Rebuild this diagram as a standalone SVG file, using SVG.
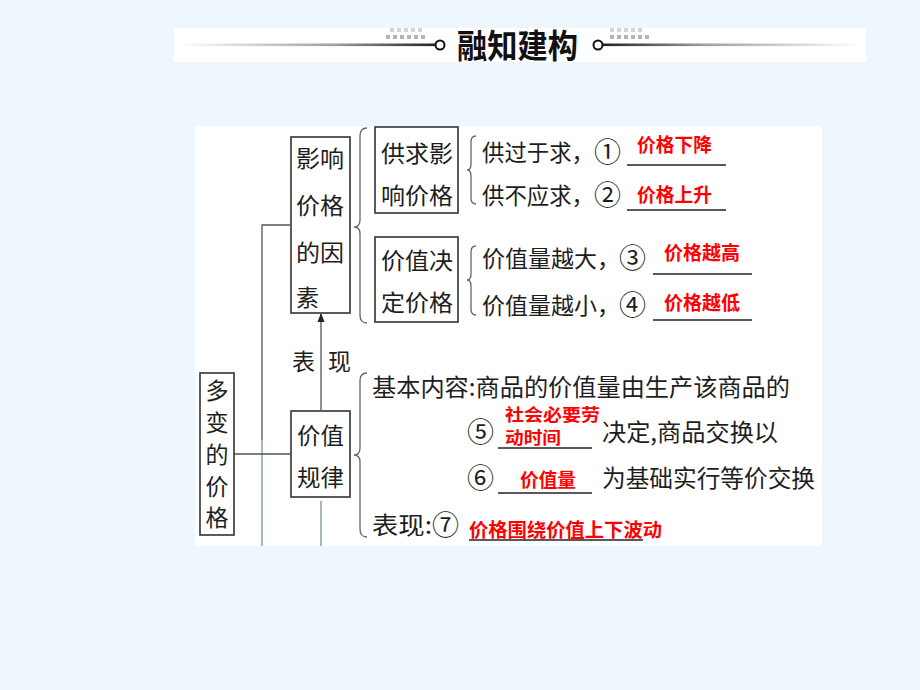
<svg xmlns="http://www.w3.org/2000/svg" width="920" height="690" viewBox="0 0 920 690">
<defs>
<style>
.t{font-family:"Noto Sans CJK SC","Liberation Serif",serif;font-size:23px;fill:#1e1e1e;}
.b{font-size:24px;}
.c{font-size:27px;}
.r{font-family:"Noto Sans CJK SC","Liberation Sans",sans-serif;font-size:19px;font-weight:bold;fill:#ff0000;}
.rs{font-size:16.5px;}
.box{fill:#ffffff;stroke:#333333;stroke-width:1.6;}
.ul{stroke:#222222;stroke-width:1.6;}
.br{fill:none;stroke:#666666;stroke-width:1.3;}
.ln{stroke:#555555;stroke-width:1.3;fill:none;}
.ln2{stroke:#6f9898;stroke-width:1.3;fill:none;}
.dot{fill:#b4b4b4;}
.dot2{fill:#d4d4d4;}
</style>
<linearGradient id="gl" x1="0" y1="0" x2="1" y2="0">
<stop offset="0" stop-color="#ffffff"/>
<stop offset="0.6" stop-color="#a0a0a0"/>
<stop offset="1" stop-color="#222222"/>
</linearGradient>
<linearGradient id="gr" x1="0" y1="0" x2="1" y2="0">
<stop offset="0" stop-color="#222222"/>
<stop offset="0.4" stop-color="#a0a0a0"/>
<stop offset="1" stop-color="#ffffff"/>
</linearGradient>
<marker id="ah" viewBox="0 0 10 10" refX="9" refY="5" markerWidth="9" markerHeight="9" markerUnits="userSpaceOnUse" orient="auto">
<path d="M0,1 L10,5 L0,9 Z" fill="#222222"/>
</marker>
</defs>
<rect width="920" height="690" fill="#eef6fe"/>

<g id="banner">
<rect x="174" y="28" width="692" height="34" fill="#ffffff"/>
<rect x="180" y="43.5" width="256" height="2.6" fill="url(#gl)"/>
<rect x="603" y="43.5" width="257" height="2.6" fill="url(#gr)"/>
<circle cx="440" cy="45" r="4.5" fill="#ffffff" stroke="#111111" stroke-width="2"/>
<circle cx="598" cy="45" r="4.5" fill="#ffffff" stroke="#111111" stroke-width="2"/>
<g class="dot2">
<rect x="390" y="28" width="4" height="4"/><rect x="397" y="28" width="4" height="4"/><rect x="404" y="28" width="4" height="4"/><rect x="411" y="28" width="4" height="4"/><rect x="418" y="28" width="4" height="4"/>
<rect x="610" y="28" width="4" height="4"/><rect x="617" y="28" width="4" height="4"/><rect x="624" y="28" width="4" height="4"/><rect x="631" y="28" width="4" height="4"/><rect x="638" y="28" width="4" height="4"/>
</g>
<g class="dot">
<rect x="386" y="35" width="4" height="4"/><rect x="393" y="35" width="4" height="4"/><rect x="400" y="35" width="4" height="4"/><rect x="407" y="35" width="4" height="4"/><rect x="414" y="35" width="4" height="4"/><rect x="421" y="35" width="4" height="4"/>
<rect x="610" y="35" width="4" height="4"/><rect x="617" y="35" width="4" height="4"/><rect x="624" y="35" width="4" height="4"/><rect x="631" y="35" width="4" height="4"/><rect x="638" y="35" width="4" height="4"/><rect x="645" y="35" width="4" height="4"/>
</g>
<text x="457" y="57.5" font-family="'Noto Sans CJK SC',sans-serif" font-size="33" font-weight="bold" fill="#111111" textLength="121" lengthAdjust="spacingAndGlyphs">融知建构</text>
</g>

<rect x="195" y="126" width="627" height="420" fill="#ffffff"/>

<g id="connectors">
<polyline class="ln" points="290,225 262,225 262,440"/>
<line class="ln2" x1="262" y1="440" x2="262" y2="546"/>
<line class="ln" x1="234" y1="454" x2="290" y2="454"/>
<line class="ln" x1="321" y1="410" x2="321" y2="314" marker-end="url(#ah)"/>
<line class="ln2" x1="321" y1="501" x2="321" y2="546"/>
<path class="br" d="M367,128 Q360,128 360,136 L360,220 Q360,227 354,227 Q360,227 360,234 L360,315 Q360,323 367,323"/>
<path class="br" d="M476,136 Q471,136 471,142 L471,164 Q471,170 467,170 Q471,170 471,176 L471,198 Q471,204 476,204"/>
<path class="br" d="M476,246 Q471,246 471,252 L471,274 Q471,280 467,280 Q471,280 471,286 L471,309 Q471,315 476,315"/>
<path class="br" d="M367,373 Q360,373 360,381 L360,448 Q360,455 354,455 Q360,455 360,462 L360,529 Q360,537 367,537"/>
</g>

<g id="n-duobian">
<rect class="box" x="200" y="373" width="34" height="162"/>
<g class="t" font-size="22.5" text-anchor="middle">
<text x="217" y="399">多</text>
<text x="217" y="430.5">变</text>
<text x="217" y="463">的</text>
<text x="217" y="494.5">价</text>
<text x="217" y="526">格</text>
</g>
</g>

<g id="n-yinsu">
<rect class="box" x="291" y="137" width="59" height="176"/>
<text class="t" x="296" y="167" textLength="48" lengthAdjust="spacingAndGlyphs">影响</text>
<text class="t" x="296" y="214" textLength="48" lengthAdjust="spacingAndGlyphs">价格</text>
<text class="t" x="296" y="261" textLength="48" lengthAdjust="spacingAndGlyphs">的因</text>
<text class="t" x="296" y="306">素</text>
</g>

<g id="n-gongqiu">
<rect class="box" x="375" y="127" width="83" height="86"/>
<text class="t" x="381" y="162" textLength="72" lengthAdjust="spacingAndGlyphs">供求影</text>
<text class="t" x="381" y="204" textLength="72" lengthAdjust="spacingAndGlyphs">响价格</text>
</g>

<g id="n-jiazhi">
<rect class="box" x="375" y="237" width="83" height="85"/>
<text class="t" x="381" y="269" textLength="72" lengthAdjust="spacingAndGlyphs">价值决</text>
<text class="t" x="381" y="311" textLength="72" lengthAdjust="spacingAndGlyphs">定价格</text>
</g>

<g id="n-guilv">
<rect class="box" x="291" y="411" width="59" height="86"/>
<text class="t" x="297" y="444" textLength="47" lengthAdjust="spacingAndGlyphs">价值</text>
<text class="t" x="297" y="486" textLength="47" lengthAdjust="spacingAndGlyphs">规律</text>
</g>

<g id="l-biaoxian">
<text class="t" font-size="20" x="292" y="370">表</text>
<text class="t" font-size="20" x="328" y="370">现</text>
</g>

<g id="supply">
<text class="t" x="482" y="161" textLength="112" lengthAdjust="spacingAndGlyphs">供过于求，</text>
<text class="t c" x="594" y="162">①</text>
<text class="t" x="482" y="204" textLength="112" lengthAdjust="spacingAndGlyphs">供不应求，</text>
<text class="t c" x="594" y="205">②</text>
<line class="ul" x1="627" y1="165" x2="726" y2="165"/>
<line class="ul" x1="627" y1="210" x2="726" y2="210"/>
<text class="r" x="637" y="152" textLength="75" lengthAdjust="spacingAndGlyphs">价格下降</text>
<text class="r" x="637" y="202" textLength="75" lengthAdjust="spacingAndGlyphs">价格上升</text>
</g>

<g id="value">
<text class="t" x="482" y="267" textLength="138" lengthAdjust="spacingAndGlyphs">价值量越大，</text>
<text class="t c" x="619" y="268">③</text>
<text class="t" x="482" y="314" textLength="138" lengthAdjust="spacingAndGlyphs">价值量越小，</text>
<text class="t c" x="619" y="315">④</text>
<line class="ul" x1="653" y1="274" x2="752" y2="274"/>
<line class="ul" x1="653" y1="320" x2="752" y2="320"/>
<text class="r" x="664" y="260" textLength="76" lengthAdjust="spacingAndGlyphs">价格越高</text>
<text class="r" x="664" y="310" textLength="76" lengthAdjust="spacingAndGlyphs">价格越低</text>
</g>

<g id="law">
<text class="t b" x="372" y="396" textLength="418" lengthAdjust="spacingAndGlyphs">基本内容:商品的价值量由生产该商品的</text>
<text class="t c" x="467" y="442">⑤</text>
<text class="t b" x="602" y="441" textLength="176" lengthAdjust="spacingAndGlyphs">决定,商品交换以</text>
<text class="t c" x="467" y="488">⑥</text>
<text class="t b" x="602" y="487" textLength="213" lengthAdjust="spacingAndGlyphs">为基础实行等价交换</text>
<text class="t b" x="372" y="534" textLength="60" lengthAdjust="spacingAndGlyphs">表现:</text>
<text class="t c" x="432" y="535">⑦</text>
<line class="ul" x1="498" y1="448" x2="592" y2="448"/>
<line class="ul" x1="498" y1="493" x2="592" y2="493"/>
<line class="ul" x1="469" y1="540" x2="643" y2="540"/>
<text class="r rs" x="505" y="420.5" textLength="95" lengthAdjust="spacingAndGlyphs">社会必要劳</text>
<text class="r rs" x="505" y="443.5" textLength="56" lengthAdjust="spacingAndGlyphs">动时间</text>
<text class="r" x="520" y="487" textLength="56" lengthAdjust="spacingAndGlyphs">价值量</text>
<text class="r" x="469" y="537" textLength="193" lengthAdjust="spacingAndGlyphs">价格围绕价值上下波动</text>
</g>
</svg>
